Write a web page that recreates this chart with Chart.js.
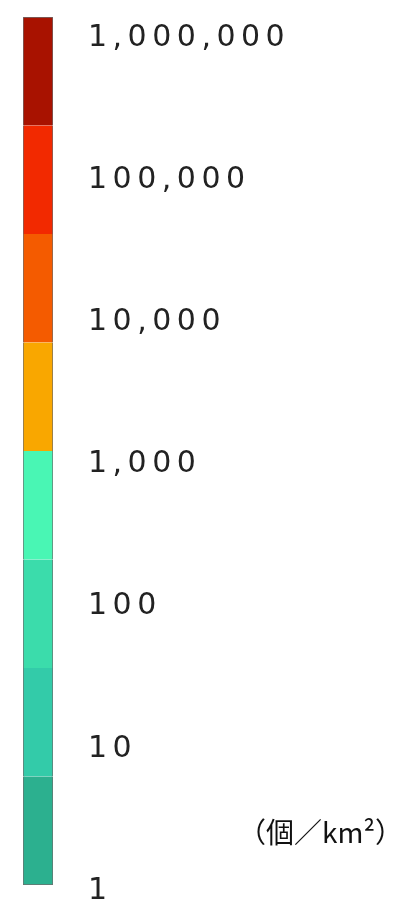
<!DOCTYPE html>
<html>
<head>
<meta charset="utf-8">
<script src="https://cdn.jsdelivr.net/npm/chart.js@4"></script>
<style>
  html, body { margin: 0; padding: 0; background: #fff; }
  #wrap { width: 405px; height: 906px; }
</style>
</head>
<body>
<div id="wrap"><canvas id="legend"></canvas></div>
<script>
// colour classes of the legend bar, bottom to top
const segmentColors = ['#2cb08f', '#33cba9', '#3bdcab', '#49f6b4', '#f9a700', '#f45b00', '#f22900', '#a81200'];
const segmentValues = [1, 1, 1, 1, 1, 1, 1, 1];
// tick labels, bottom to top
const tickLabels = ['1', '10', '100', '1,000', '10,000', '100,000', '1,000,000'];
const unitLabel = '（個／km²）';

// bar runs from barTop to barBottom; labels are spread a little wider than the bar
const barTop = 17, barBottom = 885;
const firstLabelY = 891, lastLabelY = 38;
const barH = barBottom - barTop;
const labelRange = (tickLabels.length - 1) / (firstLabelY - lastLabelY) * barH;
const labelMin = (firstLabelY - barBottom) / barH * labelRange;
const labelMax = labelMin + labelRange;

// draw the unit text and widen the label spacing
const legendText = {
  id: 'legendText',
  beforeDraw(chart) {
    chart.ctx.letterSpacing = '5.5px';
  },
  afterDraw(chart) {
    const ctx = chart.ctx;
    ctx.save();
    ctx.letterSpacing = '0px';
    ctx.font = '28px "Noto Sans CJK JP", "Noto Sans CJK SC", sans-serif';
    ctx.fillStyle = '#111';
    ctx.textBaseline = 'middle';
    ctx.textAlign = 'left';
    ctx.fillText(unitLabel, 238, 832);
    ctx.restore();
  }
};

new Chart(document.getElementById('legend'), {
  type: 'bar',
  data: {
    labels: [''],
    datasets: segmentColors.map((c, i) => ({
      data: [segmentValues[i]],
      backgroundColor: c,
      borderColor: '#6e6e6e',
      borderSkipped: false,
      borderWidth: { left: 1, right: 1, top: i === segmentColors.length - 1 ? 1 : 0, bottom: i === 0 ? 1 : 0 },
      categoryPercentage: 1,
      barPercentage: 1
    }))
  },
  options: {
    responsive: true,
    maintainAspectRatio: false,
    animation: false,
    layout: { padding: { top: barTop, bottom: 906 - barBottom, left: 23, right: 0 } },
    plugins: { legend: { display: false }, tooltip: { enabled: false } },
    scales: {
      x: { display: false, stacked: true },
      y: { display: false, stacked: true, min: 0, max: segmentValues.length },
      labels: {
        position: 'right',
        min: labelMin,
        max: labelMax,
        grid: { display: false, drawTicks: false },
        border: { display: false },
        afterFit: scale => {
          scale.width = 405 - 53;
          scale.paddingTop = 0;
          scale.paddingBottom = 0;
        },
        afterBuildTicks: scale => { scale.ticks = tickLabels.map((_, i) => ({ value: i })); },
        ticks: {
          padding: 35,
          color: '#222',
          font: { family: 'DejaVu Sans', size: 30 },
          autoSkip: false,
          callback: (value, index) => tickLabels[index]
        }
      }
    }
  },
  plugins: [legendText]
});
</script>
</body>
</html>
